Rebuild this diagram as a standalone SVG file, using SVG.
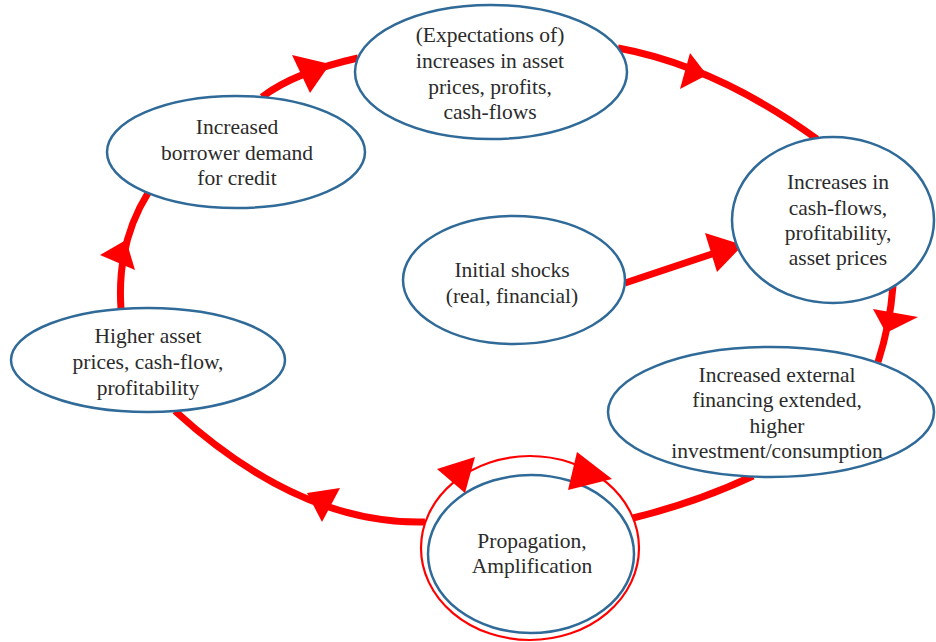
<svg xmlns="http://www.w3.org/2000/svg" width="936" height="642" viewBox="0 0 936 642">
<style>
.node{fill:#ffffff;stroke:#2f6a98;stroke-width:2.5}
.ring{fill:none;stroke:#ff0000;stroke-width:2.2}
.link{fill:none;stroke:#ff0000;stroke-width:7;stroke-linecap:butt}
.head{fill:#ff0000;stroke:none}
text{font-family:"Liberation Serif","Times New Roman",serif;font-size:21.5px;fill:#2b2b2b;text-anchor:middle}
</style>
<rect width="936" height="642" fill="#ffffff"/>
<g id="connectors">
<path class="link" d="M121,309 C118,265 128,225 148,193"/>
<path class="link" d="M262,97 Q295,72 358,58"/>
<path class="link" d="M618,48 Q716,66 817,139"/>
<path class="link" d="M893,286 Q890,325 878,362"/>
<path class="link" d="M753,476 Q695,503 633,518"/>
<path class="link" d="M425,522 Q300,525 175,411"/>
<path class="link" d="M625,283 L712,254"/>
<polygon class="head" points="126,240 100,255 135,270"/>
<polygon class="head" points="330,64 292,55 310,93"/>
<polygon class="head" points="707,75 690,53 680,89"/>
<polygon class="head" points="886,333 873,309 918,317"/>
<polygon class="head" points="307,493 340,488 322,522"/>
<polygon class="head" points="743,245 705,233 717,272"/>
</g>
<g id="node-expectations">
<ellipse class="node" cx="491" cy="72" rx="136" ry="67"/>
<text x="490" y="42">(Expectations of)</text>
<text x="490" y="68">increases in asset</text>
<text x="490" y="94">prices, profits,</text>
<text x="490" y="119">cash-flows</text>
</g>
<g id="node-borrower">
<ellipse class="node" cx="236" cy="152" rx="129" ry="56"/>
<text x="237" y="134">Increased</text>
<text x="237" y="160">borrower demand</text>
<text x="237" y="185">for credit</text>
</g>
<g id="node-higher">
<ellipse class="node" cx="148" cy="360" rx="137" ry="52"/>
<text x="148" y="343">Higher asset</text>
<text x="148" y="369">prices, cash-flow,</text>
<text x="148" y="395">profitability</text>
</g>
<g id="node-cashflows">
<ellipse class="node" cx="833" cy="220" rx="101" ry="83"/>
<text x="838" y="189">Increases in</text>
<text x="838" y="215">cash-flows,</text>
<text x="838" y="240">profitability,</text>
<text x="838" y="265">asset prices</text>
</g>
<g id="node-shocks">
<ellipse class="node" cx="514" cy="280" rx="111" ry="64"/>
<text x="512" y="277">Initial shocks</text>
<text x="512" y="303">(real, financial)</text>
</g>
<g id="node-external">
<ellipse class="node" cx="771" cy="412" rx="163" ry="65"/>
<text x="777" y="382">Increased external</text>
<text x="777" y="407">financing extended,</text>
<text x="777" y="433">higher</text>
<text x="777" y="458">investment/consumption</text>
</g>
<g id="node-propagation">
<ellipse class="ring" cx="530" cy="548" rx="109" ry="92"/>
<ellipse class="node" cx="531" cy="554" rx="103" ry="79"/>
<text x="532" y="548">Propagation,</text>
<text x="532" y="573">Amplification</text>
</g>
<g id="ring-arrows">
<polygon class="head" points="475,457 437,469 465,493"/>
<polygon class="head" points="612,479 577,452 568,490"/>
</g>
</svg>
